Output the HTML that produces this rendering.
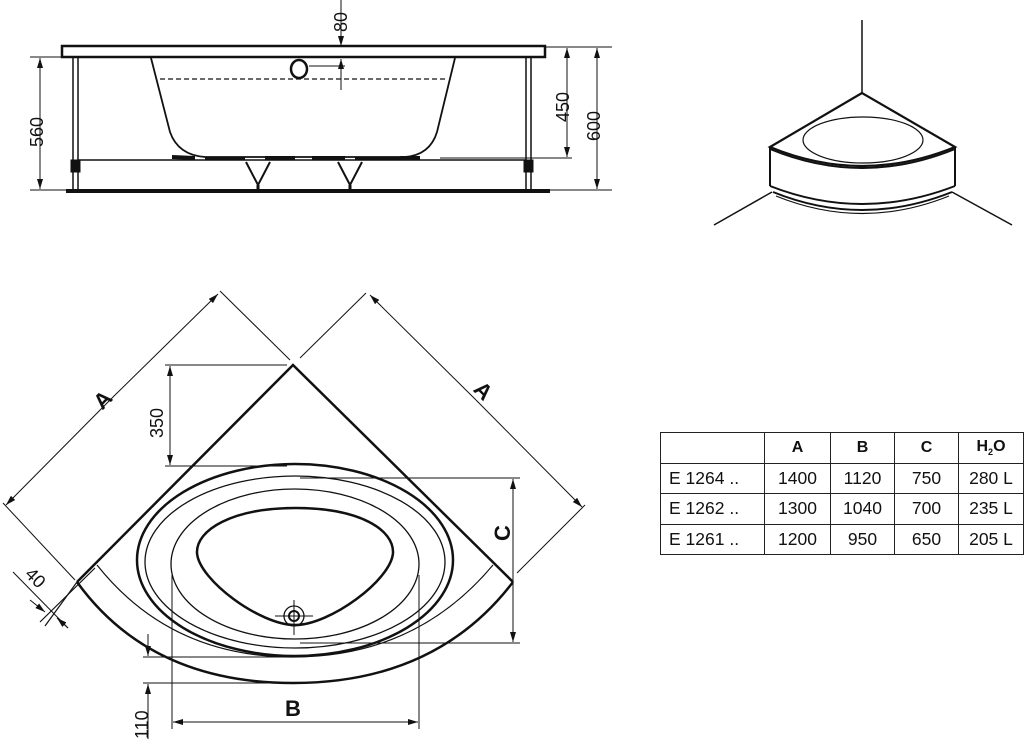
<!DOCTYPE html>
<html><head><style>
html,body{margin:0;padding:0;background:#fff;}
svg{display:block;}
text{font-family:"Liberation Sans",Arial,sans-serif;fill:#111;}
table{position:absolute;left:660px;top:432px;border-collapse:collapse;font-family:"Liberation Sans",Arial,sans-serif;font-size:17.5px;color:#111;}
td{border:1.5px solid #222;height:29.5px;padding:0;text-align:center;}
</style></head><body>
<div style="position:relative;width:1024px;height:739px;overflow:hidden">
<svg width="1024" height="739" viewBox="0 0 1024 739" xmlns="http://www.w3.org/2000/svg">
<defs>
<marker id="ar" markerWidth="10" markerHeight="6" refX="10" refY="3" orient="auto" markerUnits="userSpaceOnUse"><path d="M0,0 L10,3 L0,6 z" fill="#111"/></marker>
</defs>
<g stroke="#111" fill="none">
<!-- SIDE VIEW -->
<rect x="62" y="46" width="483" height="11" stroke-width="2.5" fill="#fff"/>
<line x1="73" y1="57" x2="73" y2="190" stroke-width="1.5"/><line x1="78" y1="57" x2="78" y2="190" stroke-width="1.5"/>
<line x1="526" y1="57" x2="526" y2="190" stroke-width="1.5"/><line x1="531" y1="57" x2="531" y2="190" stroke-width="1.5"/>
<rect x="71" y="160" width="9" height="12" fill="#111"/><rect x="524" y="160" width="9" height="12" fill="#111"/>
<line x1="78" y1="160" x2="526" y2="160" stroke-width="1.5"/>
<line x1="66" y1="191" x2="550" y2="191" stroke-width="4"/>
<path d="M151,58 L170,132 Q178,155 205,157 L405,157 Q430,155 437,132 L455,58" stroke-width="1.8"/>
<line x1="172" y1="157" x2="195" y2="158" stroke-width="4"/>
<line x1="205" y1="158" x2="245" y2="158" stroke-width="3"/>
<line x1="265" y1="158" x2="295" y2="158" stroke-width="4"/><line x1="312" y1="158" x2="345" y2="158" stroke-width="4"/>
<line x1="355" y1="158" x2="400" y2="158" stroke-width="3"/>
<line x1="400" y1="158" x2="420" y2="158" stroke-width="4"/>
<line x1="160" y1="79" x2="445" y2="79" stroke-width="1.2" stroke-dasharray="5,3"/>
<ellipse cx="299" cy="69" rx="8" ry="9" stroke-width="2.5"/>
<line x1="309" y1="66" x2="345" y2="66" stroke-width="1"/>
<line x1="341" y1="0" x2="341" y2="46" stroke-width="1" marker-end="url(#ar)"/>
<line x1="341" y1="90" x2="341" y2="59" stroke-width="1" marker-end="url(#ar)"/>
<path d="M246,162 L258,185 L270,162" stroke-width="2"/><path d="M338,162 L350,185 L362,162" stroke-width="2"/>
<line x1="258" y1="185" x2="258" y2="191" stroke-width="3"/><line x1="350" y1="185" x2="350" y2="191" stroke-width="3"/>
<line x1="30" y1="57" x2="62" y2="57" stroke-width="1"/><line x1="30" y1="190" x2="66" y2="190" stroke-width="1"/>
<line x1="40" y1="123" x2="40" y2="58" stroke-width="1" marker-end="url(#ar)"/><line x1="40" y1="123" x2="40" y2="189" stroke-width="1" marker-end="url(#ar)"/>
<line x1="545" y1="47" x2="612" y2="47" stroke-width="1"/><line x1="440" y1="158" x2="572" y2="158" stroke-width="1"/><line x1="550" y1="190" x2="612" y2="190" stroke-width="1"/>
<line x1="567" y1="100" x2="567" y2="48" stroke-width="1" marker-end="url(#ar)"/><line x1="567" y1="100" x2="567" y2="157" stroke-width="1" marker-end="url(#ar)"/>
<line x1="597" y1="120" x2="597" y2="48" stroke-width="1" marker-end="url(#ar)"/><line x1="597" y1="120" x2="597" y2="189" stroke-width="1" marker-end="url(#ar)"/>

<!-- PERSPECTIVE -->
<line x1="862" y1="20" x2="862" y2="93" stroke-width="1.5"/>
<path d="M862,93 L770,147 Q862,185 955,147 Z" stroke-width="2.2" fill="#fff"/>
<path d="M770,149 Q862,187 955,149" stroke-width="2"/>
<ellipse cx="863" cy="140" rx="60" ry="23" stroke-width="1.2"/>
<line x1="770" y1="147" x2="770" y2="186" stroke-width="2"/><line x1="955" y1="147" x2="955" y2="186" stroke-width="2"/>
<path d="M770,186 Q862,222 955,186" stroke-width="2"/>
<path d="M773,192 Q862,228 952,192" stroke-width="2"/>
<path d="M776,196 Q862,231 949,196" stroke-width="1.2"/>
<line x1="772" y1="192" x2="714" y2="225" stroke-width="1.5"/><line x1="952" y1="192" x2="1012" y2="225" stroke-width="1.5"/>

<!-- PLAN VIEW -->
<path d="M77,582 L293,365 L513,582" stroke-width="2.5"/>
<path d="M77,582 Q150,683 293,683 Q436,683 513,582" stroke-width="2.5"/>
<path d="M97,565 Q170,657 293,657 Q416,657 493,565" stroke-width="1.2"/>
<line x1="95" y1="568" x2="40" y2="622" stroke-width="1.2"/>
<line x1="77" y1="582" x2="45" y2="626" stroke-width="1.2"/>
<ellipse cx="295" cy="560" rx="158" ry="96" stroke-width="2.5"/>
<ellipse cx="295" cy="562" rx="150" ry="86" stroke-width="1.3"/>
<ellipse cx="295" cy="564" rx="124" ry="75" stroke-width="1.3"/>
<path d="M296,508 C360,508 394,530 393,553 C391,580 330,625 295,625 C260,625 199,580 197,553 C196,530 232,508 296,508 Z" stroke-width="2.5"/>
<circle cx="294" cy="616" r="10" stroke-width="1.3"/><circle cx="294" cy="616" r="5" stroke-width="2"/>
<line x1="275" y1="616" x2="313" y2="616" stroke-width="1"/><line x1="294" y1="600" x2="294" y2="635" stroke-width="1"/>
<line x1="220" y1="291" x2="290" y2="360" stroke-width="1"/><line x1="3" y1="503" x2="75" y2="580" stroke-width="1"/>
<line x1="112" y1="398" x2="218" y2="294" stroke-width="1" marker-end="url(#ar)"/><line x1="112" y1="398" x2="6" y2="505" stroke-width="1" marker-end="url(#ar)"/>
<line x1="366" y1="293" x2="300" y2="358" stroke-width="1"/><line x1="585" y1="505" x2="517" y2="573" stroke-width="1"/>
<line x1="476" y1="400" x2="370" y2="295" stroke-width="1" marker-end="url(#ar)"/><line x1="476" y1="400" x2="582" y2="507" stroke-width="1" marker-end="url(#ar)"/>
<line x1="165" y1="365" x2="287" y2="365" stroke-width="1"/><line x1="165" y1="466" x2="287" y2="466" stroke-width="1"/>
<line x1="170" y1="415" x2="170" y2="366" stroke-width="1" marker-end="url(#ar)"/><line x1="170" y1="415" x2="170" y2="465" stroke-width="1" marker-end="url(#ar)"/>
<line x1="300" y1="478" x2="520" y2="478" stroke-width="1"/><line x1="300" y1="643" x2="520" y2="643" stroke-width="1"/>
<line x1="513" y1="560" x2="513" y2="479" stroke-width="1" marker-end="url(#ar)"/><line x1="513" y1="560" x2="513" y2="642" stroke-width="1" marker-end="url(#ar)"/>
<line x1="172" y1="575" x2="172" y2="729" stroke-width="1"/><line x1="419" y1="575" x2="419" y2="729" stroke-width="1"/>
<line x1="295" y1="722" x2="173" y2="722" stroke-width="1" marker-end="url(#ar)"/><line x1="295" y1="722" x2="418" y2="722" stroke-width="1" marker-end="url(#ar)"/>
<line x1="143" y1="657" x2="290" y2="657" stroke-width="1"/><line x1="143" y1="683" x2="290" y2="683" stroke-width="1"/>
<line x1="148" y1="634" x2="148" y2="656" stroke-width="1" marker-end="url(#ar)"/><line x1="148" y1="739" x2="148" y2="684" stroke-width="1" marker-end="url(#ar)"/>
<line x1="13" y1="572" x2="68" y2="628" stroke-width="1"/>
<line x1="30" y1="600" x2="45" y2="612" stroke-width="1" marker-end="url(#ar)"/><line x1="68" y1="628" x2="57" y2="618" stroke-width="1" marker-end="url(#ar)"/>
</g>
<g font-size="18">
<text transform="translate(347,32) rotate(-90)">80</text>
<text transform="translate(43,147) rotate(-90)">560</text>
<text transform="translate(569,122) rotate(-90)">450</text>
<text transform="translate(600,141) rotate(-90)">600</text>
<text transform="translate(163,438) rotate(-90)">350</text>
<text transform="translate(148,739) rotate(-90)">110</text>
<text transform="translate(24,575) rotate(45)">40</text>
</g>
<g font-size="22" font-weight="bold">
<text transform="translate(108,405) rotate(-45)" text-anchor="middle">A</text>
<text transform="translate(478,396) rotate(45)" text-anchor="middle">A</text>
<text transform="translate(510,533) rotate(-90)" text-anchor="middle">C</text>
<text x="293" y="716" text-anchor="middle">B</text>
</g>
</svg>
<table>
<tr style="font-weight:bold;font-size:16px"><td style="width:103px"></td><td style="width:65px">A</td><td style="width:63px">B</td><td style="width:63px">C</td><td style="width:64px">H<sub style="font-size:9px">2</sub>O</td></tr>
<tr><td style="text-align:left;padding-left:8px">E 1264 ..</td><td>1400</td><td>1120</td><td>750</td><td>280 L</td></tr>
<tr><td style="text-align:left;padding-left:8px">E 1262 ..</td><td>1300</td><td>1040</td><td>700</td><td>235 L</td></tr>
<tr><td style="text-align:left;padding-left:8px">E 1261 ..</td><td>1200</td><td>950</td><td>650</td><td>205 L</td></tr>
</table>
</div>
</body></html>
